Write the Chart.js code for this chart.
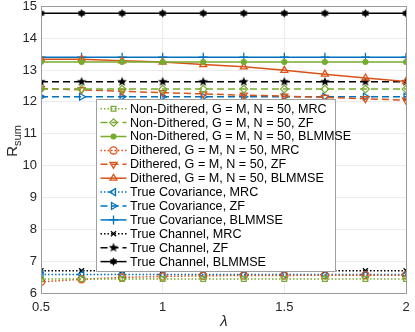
<!DOCTYPE html>
<html>
<head>
<meta charset="utf-8">
<script src="https://cdn.jsdelivr.net/npm/chart.js@4/dist/chart.umd.min.js"></script>
<style>
  html, body { margin: 0; padding: 0; background: #fff; }
  #wrap { width: 415px; height: 332px; }
</style>
</head>
<body>
<div id="wrap"><canvas id="canvas1" width="415" height="332"></canvas></div>
<script>
// x values (lambda) and the series
var lambda = [0.5, 0.6667, 0.8333, 1, 1.1667, 1.3333, 1.5, 1.6667, 1.8333, 2];

var ndMRC = [6.44, 6.44, 6.44, 6.44, 6.44, 6.44, 6.44, 6.44, 6.44, 6.44];
var ndZF  = [12.4, 12.4, 12.4, 12.4, 12.4, 12.4, 12.4, 12.4, 12.4, 12.4];
var ndBL  = [13.25, 13.25, 13.25, 13.25, 13.25, 13.25, 13.25, 13.25, 13.25, 13.25];
var dMRC  = [6.35, 6.43, 6.49, 6.52, 6.54, 6.55, 6.55, 6.56, 6.56, 6.56];
var dZF   = [12.42, 12.38, 12.33, 12.29, 12.25, 12.21, 12.18, 12.14, 12.1, 12.05];
var dBL   = [13.34, 13.34, 13.29, 13.25, 13.17, 13.1, 12.99, 12.87, 12.75, 12.64];
var covMRC = [6.58, 6.58, 6.58, 6.58, 6.58, 6.58, 6.58, 6.58, 6.58, 6.58];
var covZF  = [12.16, 12.16, 12.16, 12.16, 12.16, 12.16, 12.16, 12.16, 12.16, 12.16];
var covBL  = [13.4, 13.4, 13.4, 13.4, 13.4, 13.4, 13.4, 13.4, 13.4, 13.4];
var chMRC = [6.7, 6.7, 6.7, 6.7, 6.7, 6.7, 6.7, 6.7, 6.7, 6.7];
var chZF  = [12.63, 12.63, 12.63, 12.63, 12.63, 12.63, 12.63, 12.63, 12.63, 12.63];
var chBL  = [14.78, 14.78, 14.78, 14.78, 14.78, 14.78, 14.78, 14.78, 14.78, 14.78];

var labels = [
  "Non-Dithered, G = M, N = 50, MRC",
  "Non-Dithered, G = M, N = 50, ZF",
  "Non-Dithered, G = M, N = 50, BLMMSE",
  "Dithered, G = M, N = 50, MRC",
  "Dithered, G = M, N = 50, ZF",
  "Dithered, G = M, N = 50, BLMMSE",
  "True Covariance, MRC",
  "True Covariance, ZF",
  "True Covariance, BLMMSE",
  "True Channel, MRC",
  "True Channel, ZF",
  "True Channel, BLMMSE"
];

var xTicks = [0.5, 1, 1.5, 2];
var yMin = 6, yMax = 15;

var GREEN = "#77AC30", ORANGE = "#D95319", BLUE = "#0072BD", BLACK = "#000000";
var DOT = [1.5, 2], DASH = [7, 4], SOLID = [];
var FONT = "'Liberation Sans', Arial, Helvetica, sans-serif";

// filled star shaped markers (pentagram / hexagram)
function starMarker(n, rOut, rIn, color) {
  var size = Math.ceil(rOut * 2 + 2);
  var c = document.createElement("canvas");
  c.width = size; c.height = size;
  var g = c.getContext("2d");
  g.translate(size / 2, size / 2);
  g.beginPath();
  for (var k = 0; k < n * 2; k++) {
    var r = k % 2 === 0 ? rOut : rIn;
    var a = -Math.PI / 2 + k * Math.PI / n;
    if (k === 0) g.moveTo(r * Math.cos(a), r * Math.sin(a));
    else g.lineTo(r * Math.cos(a), r * Math.sin(a));
  }
  g.closePath();
  g.fillStyle = color;
  g.fill();
  return c;
}
var pentagram = starMarker(5, 5, 2.1, BLACK);
var hexagram = starMarker(6, 4.2, 2.6, BLACK);

function series(label, values, color, dash, style, rot, radius, fill) {
  return {
    label: label,
    data: lambda.map(function (x, i) { return { x: x, y: values[i] }; }),
    borderColor: color,
    backgroundColor: color,
    borderWidth: 1.5,
    borderDash: dash,
    pointStyle: style,
    pointRotation: rot,
    pointRadius: radius,
    pointBorderWidth: 1.3,
    pointBorderColor: color,
    pointBackgroundColor: fill ? color : "rgba(0,0,0,0)",
    tension: 0,
    fill: false
  };
}

var datasets = [
  series(labels[0], ndMRC, GREEN, DOT, "rect", 0, 3.3, false),
  series(labels[1], ndZF, GREEN, DASH, "rectRot", 0, 3.8, false),
  series(labels[2], ndBL, GREEN, SOLID, "circle", 0, 2.4, true),
  series(labels[3], dMRC, ORANGE, DOT, "circle", 0, 3.6, false),
  series(labels[4], dZF, ORANGE, DASH, "triangle", 180, 4, false),
  series(labels[5], dBL, ORANGE, SOLID, "triangle", 0, 4, false),
  series(labels[6], covMRC, BLUE, DOT, "triangle", -90, 4, false),
  series(labels[7], covZF, BLUE, DASH, "triangle", 90, 4, false),
  series(labels[8], covBL, BLUE, SOLID, "cross", 0, 4.5, false),
  series(labels[9], chMRC, BLACK, DOT, "crossRot", 0, 3.5, false),
  series(labels[10], chZF, BLACK, DASH, pentagram, 0, 5, true),
  series(labels[11], chBL, BLACK, SOLID, hexagram, 0, 4.2, true)
];

function drawMarker(ctx, ds, x, y) {
  ctx.save();
  ctx.strokeStyle = ds.pointBorderColor;
  ctx.fillStyle = ds.pointBackgroundColor;
  ctx.lineWidth = ds.pointBorderWidth;
  ctx.setLineDash([]);
  Chart.helpers.drawPoint(ctx, {
    pointStyle: ds.pointStyle,
    rotation: ds.pointRotation,
    radius: ds.pointRadius,
    borderWidth: ds.pointBorderWidth
  }, x, y);
  ctx.restore();
}

// box round the axes (top and right edges)
var frame = {
  id: "frame",
  afterDatasetsDraw: function (chart) {
    var a = chart.chartArea, ctx = chart.ctx;
    ctx.save();
    ctx.strokeStyle = "#9a9a9a";
    ctx.lineWidth = 1;
    ctx.strokeRect(Math.round(a.left) + 0.5, Math.round(a.top) + 0.5,
      Math.round(a.right - a.left), Math.round(a.bottom - a.top));
    ctx.restore();
  }
};

// legend drawn as in the matlab figure: line sample with marker
var boxLegend = {
  id: "boxLegend",
  afterDraw: function (chart) {
    var ctx = chart.ctx;
    var bx = 96.5, by = 99.5, bw = 239, bh = 172, row = 13.9;
    ctx.save();
    ctx.fillStyle = "#ffffff";
    ctx.fillRect(bx, by, bw, bh);
    ctx.strokeStyle = "#a0a0a0";
    ctx.lineWidth = 1;
    ctx.strokeRect(bx, by, bw, bh);
    ctx.font = "12.6px " + FONT;
    ctx.textBaseline = "middle";
    chart.data.datasets.forEach(function (ds, i) {
      var y = by + 9.2 + i * row;
      ctx.strokeStyle = ds.borderColor;
      ctx.lineWidth = ds.borderWidth;
      ctx.setLineDash(ds.borderDash);
      ctx.beginPath();
      ctx.moveTo(bx + 4, y);
      ctx.lineTo(bx + 30, y);
      ctx.stroke();
      drawMarker(ctx, ds, bx + 17, y);
      ctx.fillStyle = "#000000";
      ctx.fillText(ds.label, bx + 33.5, y + 0.5);
    });
    ctx.restore();
  }
};

// axis labels: R_sum and lambda
var axisTitles = {
  id: "axisTitles",
  afterDraw: function (chart) {
    var ctx = chart.ctx;
    ctx.save();
    ctx.fillStyle = "#262626";
    ctx.textBaseline = "alphabetic";
    ctx.translate(17, 141);
    ctx.rotate(-Math.PI / 2);
    ctx.font = "15px " + FONT;
    var wR = ctx.measureText("R").width;
    ctx.font = "11px " + FONT;
    var wS = ctx.measureText("sum").width;
    var x0 = -(wR + wS) / 2;
    ctx.font = "15px " + FONT;
    ctx.fillText("R", x0, 0);
    ctx.font = "11px " + FONT;
    ctx.fillText("sum", x0 + wR, 3.5);
    ctx.restore();

    ctx.save();
    ctx.fillStyle = "#262626";
    ctx.font = "italic 15px " + FONT;
    ctx.textAlign = "center";
    ctx.textBaseline = "middle";
    ctx.fillText("\u03bb", 224, 322);
    ctx.restore();
  }
};

var options = {
  responsive: false,
  animation: false,
  layout: { padding: { left: 0, top: 5, right: 9, bottom: 0 } },
  plugins: { legend: { display: false }, tooltip: { enabled: false } },
  scales: {
    x: {
      type: "linear",
      min: xTicks[0],
      max: xTicks[xTicks.length - 1],
      afterBuildTicks: function (axis) { axis.ticks = xTicks.map(function (v) { return { value: v }; }); },
      afterFit: function (axis) {
        axis.height = 39;
        axis.paddingLeft = 0;
        axis.paddingRight = 0;
      },
      grid: { color: "#ebebeb", drawTicks: false },
      border: { color: "#9a9a9a" },
      ticks: {
        padding: 7,
        color: "#262626",
        font: { family: FONT, size: 13 },
        maxRotation: 0,
        callback: function (v) { return String(v); }
      }
    },
    y: {
      min: yMin,
      max: yMax,
      afterFit: function (axis) {
        axis.width = 41;
        axis.paddingTop = 0;
        axis.paddingBottom = 0;
      },
      grid: { color: "#ebebeb", drawTicks: false },
      border: { color: "#9a9a9a" },
      ticks: {
        stepSize: 1,
        padding: 4,
        color: "#262626",
        font: { family: FONT, size: 13 },
        callback: function (v) { return String(v); }
      }
    }
  }
};

var ctx = document.getElementById("canvas1").getContext("2d");
new Chart(ctx, {
  type: "line",
  data: { datasets: datasets },
  options: options,
  plugins: [frame, boxLegend, axisTitles]
});
</script>
</body>
</html>
